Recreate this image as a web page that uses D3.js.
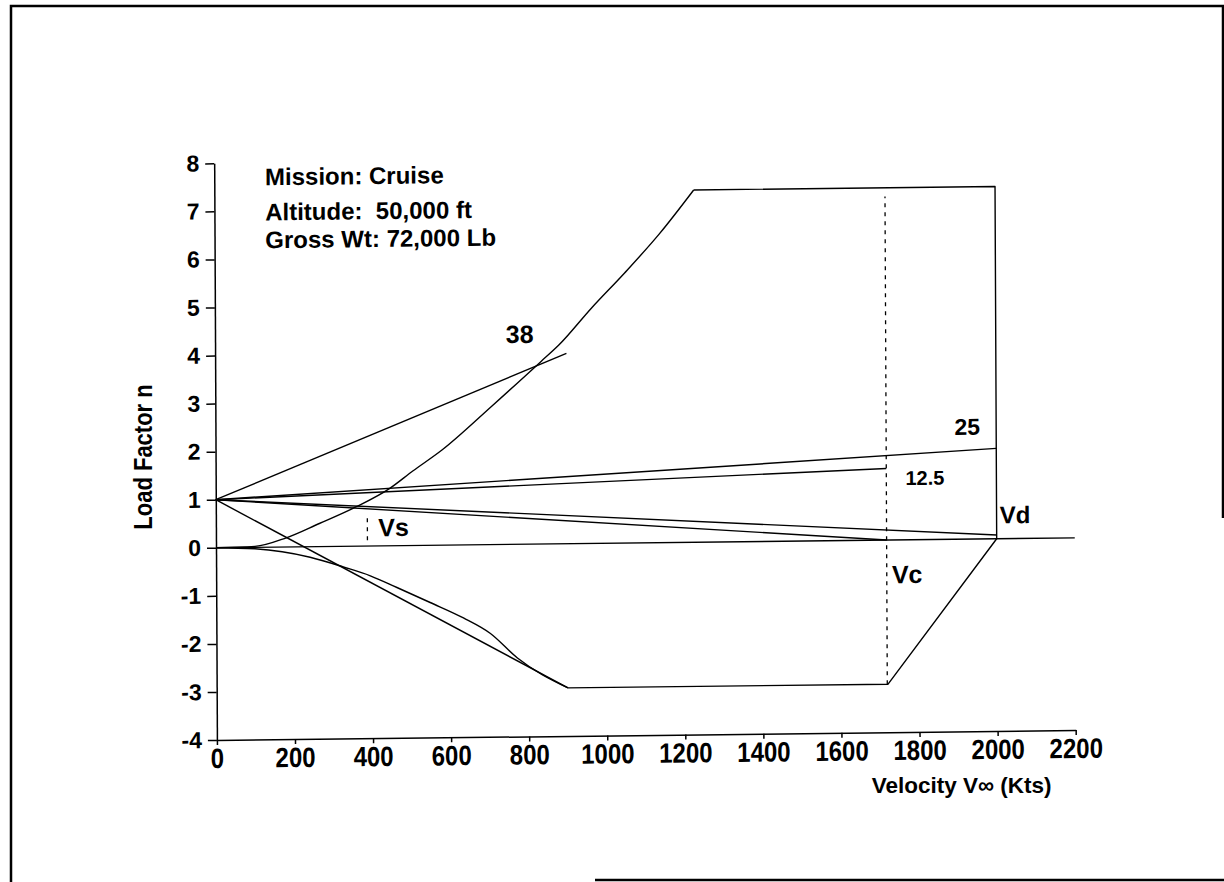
<!DOCTYPE html>
<html>
<head>
<meta charset="utf-8">
<script src="https://cdn.jsdelivr.net/npm/d3@7"></script>
<style>
  body { margin: 0; background: #fff; }
  svg { display: block; }
  text { font-family: "Liberation Sans", Arial, Helvetica, sans-serif; font-weight: bold; fill: #000; }
</style>
</head>
<body>
<div id="main"></div>
<script>
// axis ticks
var xTicks = [0, 200, 400, 600, 800, 1000, 1200, 1400, 1600, 1800, 2000, 2200];
var yTicks = [-4, -3, -2, -1, 0, 1, 2, 3, 4, 5, 6, 7, 8];

// positive stall curve (V in kts, n)
var posStallV = [0, 100, 180, 265, 360, 445, 505, 580, 708, 835, 880, 965, 1050, 1140, 1228];
var posStallN = [0, 0.02, 0.19, 0.48, 0.82, 1.19, 1.55, 1.98, 2.88, 3.8, 4.13, 4.9, 5.62, 6.43, 7.33];

// negative stall curve
var negStallV = [0, 100, 241, 326, 395, 463, 548, 633, 702, 770, 900];
var negStallN = [0, -0.03, -0.22, -0.43, -0.62, -0.87, -1.19, -1.52, -1.85, -2.36, -3.0];

// gust lines, all from n = 1 at V = 0
var gust38V = [0, 900],  gust38Pos = [1, 3.96], gust38Neg = [1, -3.0];
var gustVcV = [0, 1718], gustVcPos = [1, 1.49], gustVcNeg = [1, 0.0];
var gustVdV = [0, 2000], gustVdPos = [1, 1.88], gustVdNeg = [1, 0.08];

// structural envelope (bottom flat -> Vd -> top flat)
var envV = [900, 1720, 2000, 2000, 1228];
var envN = [-3.0, -3.0, 0, 7.33, 7.33];

var zeroV = [0, 2200], zeroN = [0, 0];

// dashed speed markers
var vcV = [1718, 1718], vcN = [-3.0, 7.15];
var vsV = [388, 388],   vsN = [0.12, 0.63];

// annotations
var noteText = ["38", "25", "12.5", "Vd", "Vc", "Vs"];
var noteV    = [745, 1893, 1767, 2008, 1731, 416];
var noteN    = [4.19, 2.17, 1.14, 0.32, -0.9, 0.2];
var noteSize = [25, 23, 20, 24, 25, 25];

var infoText = ["Mission: Cruise", "Altitude:\u00A0 50,000 ft", "Gross Wt: 72,000 Lb"];
var infoV = [130, 130, 130];
var infoN = [7.53, 6.8, 6.22];

function zipPts(vs, ns) {
    return vs.map(function(v, i) { return [v, ns[i]]; });
}

var svg = d3.select("#main").append("svg")
    .attr("width", 1224)
    .attr("height", 882);

// page frame of the scanned figure
svg.append("path")
    .attr("d", "M11,882V6H1223V518M595,880H1224")
    .attr("fill", "none")
    .attr("stroke", "#000")
    .attr("stroke-width", 2.5);

var x = d3.scaleLinear().domain([0, 2200]).range([216, 1074.8]);
var y = d3.scaleLinear().domain([-4, 8]).range([740, 163.3]);

// the scan is slightly skewed, reproduce it around the origin
var g = svg.append("g")
    .attr("transform", "translate(" + x(0) + "," + y(0) + ") skewX(0.27) skewY(-0.66) translate(" + (-x(0)) + "," + (-y(0)) + ")");

var line = d3.line()
    .x(function(d) { return x(d[0]); })
    .y(function(d) { return y(d[1]); });

var smooth = d3.line()
    .x(function(d) { return x(d[0]); })
    .y(function(d) { return y(d[1]); })
    .curve(d3.curveMonotoneX);

// axes
var xAxis = g.append("g")
    .attr("transform", "translate(0," + y(-4) + ")")
    .call(d3.axisBottom(x).tickValues(xTicks).tickSize(5).tickPadding(2).tickSizeOuter(0)
        .tickFormat(function(d) { return String(d); }));
xAxis.selectAll("text")
    .attr("font-size", 24)
    .attr("transform", "scale(1,1.16)");

var yAxis = g.append("g")
    .attr("transform", "translate(" + x(0) + ",0)")
    .call(d3.axisLeft(y).tickValues(yTicks).tickSize(9).tickPadding(6).tickSizeOuter(0)
        .tickFormat(function(d) { return String(d); }));
yAxis.selectAll("text").attr("font-size", 23);

g.selectAll(".domain, .tick line")
    .attr("stroke", "#000")
    .attr("stroke-width", 1.5);
g.selectAll(".tick text").attr("font-family", "Liberation Sans, Arial, sans-serif").attr("font-weight", "bold");

function drawLine(pts, gen, dash, width) {
    g.append("path")
        .datum(pts)
        .attr("fill", "none")
        .attr("stroke", "#000")
        .attr("stroke-width", width || 1.4)
        .attr("stroke-dasharray", dash || null)
        .attr("stroke-linejoin", "round")
        .attr("d", gen);
}

drawLine(zipPts(zeroV, zeroN), line);
drawLine(zipPts(posStallV, posStallN), smooth);
drawLine(zipPts(negStallV, negStallN), smooth);
drawLine(zipPts(gust38V, gust38Pos), line);
drawLine(zipPts(gust38V, gust38Neg), line);
drawLine(zipPts(gustVcV, gustVcPos), line);
drawLine(zipPts(gustVcV, gustVcNeg), line);
drawLine(zipPts(gustVdV, gustVdPos), line);
drawLine(zipPts(gustVdV, gustVdNeg), line);
drawLine(zipPts(envV, envN), line);
drawLine(zipPts(vcV, vcN), line, "4,5", 1.3);
drawLine(zipPts(vsV, vsN), line, "4,5", 1.3);

// annotations on the plot
noteText.forEach(function(t, i) {
    g.append("text")
        .attr("x", x(noteV[i]))
        .attr("y", y(noteN[i]))
        .attr("font-size", noteSize[i])
        .text(t);
});

infoText.forEach(function(t, i) {
    g.append("text")
        .attr("x", x(infoV[i]))
        .attr("y", y(infoN[i]))
        .attr("font-size", 24)
        .text(t);
});

// axis titles
svg.append("text")
    .attr("transform", "translate(151.5,457) rotate(-90) scale(1,1.2)")
    .attr("text-anchor", "middle")
    .attr("font-size", 22)
    .text("Load Factor n");

svg.append("text")
    .attr("x", 871.7)
    .attr("y", 793)
    .attr("font-size", 22.5)
    .text("Velocity V\u221E (Kts)");
</script>
</body>
</html>
